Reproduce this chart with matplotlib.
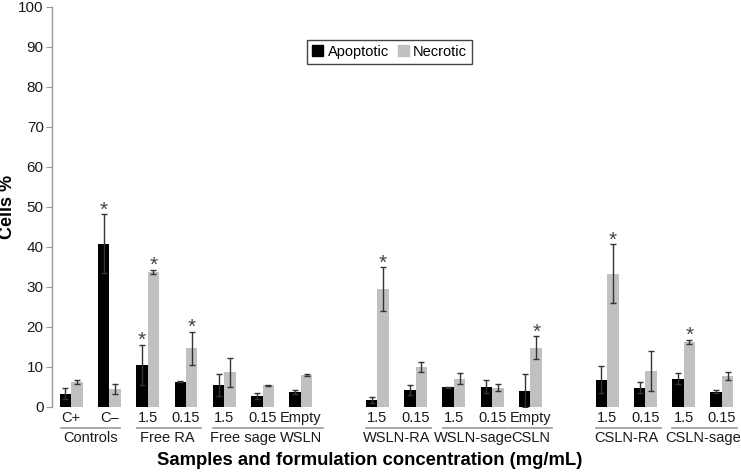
import numpy as np
import matplotlib
matplotlib.use('Agg')
import matplotlib.pyplot as plt
from matplotlib.patches import Patch
from matplotlib.transforms import blended_transform_factory

plt.rcParams['font.family'] = ['Liberation Sans', 'DejaVu Sans']

# groups of samples and how many concentrations each has
groups = ['Controls', 'Free RA', 'Free sage', 'WSLN', 'WSLN-RA', 'WSLN-sage', 'CSLN', 'CSLN-RA', 'CSLN-sage']
group_sizes = [2, 2, 2, 1, 2, 2, 1, 2, 2]
gap_after = ['WSLN', 'CSLN']

tick_labels = ['C+', 'C\u2013', '1.5', '0.15', '1.5', '0.15', 'Empty',
               '1.5', '0.15', '1.5', '0.15', 'Empty',
               '1.5', '0.15', '1.5', '0.15']

apoptotic = [3.3, 40.8, 10.5, 6.3, 5.5, 2.7, 3.7, 1.7, 4.2, 4.9, 5.0, 4.0, 6.8, 4.8, 7.0, 3.8]
apoptotic_err = [1.4, 7.3, 5.0, 0.2, 2.8, 0.8, 0.5, 0.7, 1.3, 0.1, 1.6, 4.1, 3.3, 1.4, 1.4, 0.4]
necrotic = [6.3, 4.5, 33.7, 14.6, 8.6, 5.4, 7.9, 29.4, 9.9, 7.0, 4.8, 14.8, 33.3, 9.0, 16.3, 7.8]
necrotic_err = [0.5, 1.3, 0.6, 4.2, 3.6, 0.1, 0.2, 5.5, 1.3, 1.4, 0.9, 2.9, 7.3, 5.0, 0.5, 1.0]

# indices marked with * (significant)
apoptotic_sig = [1, 2]
necrotic_sig = [2, 3, 7, 11, 12, 14]

# x positions with an empty slot after WSLN and CSLN
x = []
group_ranges = []
pos = 0
for g, n in zip(groups, group_sizes):
    group_ranges.append((len(x), len(x) + n))
    for k in range(n):
        x.append(pos)
        pos += 1
    if g in gap_after:
        pos += 1
x = np.array(x, dtype=float)

fig = plt.figure(figsize=(7.41, 4.73), dpi=100)
ax = fig.add_axes([0.0702, 0.14, 0.9298, 0.846])

w = 0.3
ecol = '#333333'
ax.bar(x - w / 2, apoptotic, w, color='black', yerr=apoptotic_err,
       error_kw=dict(ecolor=ecol, elinewidth=1, capsize=2.5, capthick=1))
ax.bar(x + w / 2, necrotic, w, color='#c0c0c0', yerr=necrotic_err,
       error_kw=dict(ecolor=ecol, elinewidth=1, capsize=2.5, capthick=1))

for i in apoptotic_sig:
    ax.annotate('*', (x[i] - w / 2, apoptotic[i] + apoptotic_err[i]), xytext=(0, -1),
                textcoords='offset points', ha='center', va='baseline', fontsize=15, color='#444444')
for i in necrotic_sig:
    ax.annotate('*', (x[i] + w / 2, necrotic[i] + necrotic_err[i]), xytext=(0, -1),
                textcoords='offset points', ha='center', va='baseline', fontsize=15, color='#444444')

ax.set_xlim(-0.5, 17.5)
ax.set_ylim(0, 100)
ax.set_yticks(np.arange(0, 101, 10))
ax.set_xticks(x)
ax.set_xticklabels(tick_labels)
ax.tick_params(axis='x', length=0, pad=3, labelsize=10.5, colors='#1a1a1a')
ax.tick_params(axis='y', length=4, width=0.8, color='#999999', labelsize=11, labelcolor='#1a1a1a', pad=2)

for s in ['top', 'right', 'bottom']:
    ax.spines[s].set_visible(False)
ax.spines['left'].set_color('#999999')
ax.spines['left'].set_linewidth(1)

ax.set_ylabel('Cells %', fontsize=13, fontweight='bold')
ax.yaxis.set_label_coords(-0.052, 0.5)

# group underlines spanning their tick labels, then group names
fig.canvas.draw()
renderer = fig.canvas.get_renderer()
tls = ax.get_xticklabels()
trans = blended_transform_factory(ax.transData, ax.transAxes)
inv = ax.transData.inverted()
for g, (a, b) in zip(groups, group_ranges):
    bb0 = tls[a].get_window_extent(renderer)
    bb1 = tls[b - 1].get_window_extent(renderer)
    x0 = inv.transform((bb0.x0 - 1, 0))[0]
    x1 = inv.transform((bb1.x1 + 1, 0))[0]
    ax.plot([x0, x1], [-0.052, -0.052], transform=trans, color='#999999', lw=1.2, clip_on=False)
    xc = x[a:b].mean()
    ax.text(xc, -0.078, g, transform=trans, ha='center', va='center',
            fontsize=10.5, color='#1a1a1a')

fig.text(0.499, 0.027, 'Samples and formulation concentration (mg/mL)',
         ha='center', va='center', fontsize=13.3, fontweight='bold')

handles = [Patch(color='black', label='Apoptotic'), Patch(color='#c0c0c0', label='Necrotic')]
ax.legend(handles=handles, loc='upper center', bbox_to_anchor=(0.49, 0.936), ncol=2,
          fontsize=10.5, frameon=True, fancybox=False, edgecolor='#444444', framealpha=1,
          handlelength=0.75, handleheight=0.75, handletextpad=0.3, columnspacing=0.6,
          borderpad=0.35)

fig.savefig('out.png', dpi=100)
